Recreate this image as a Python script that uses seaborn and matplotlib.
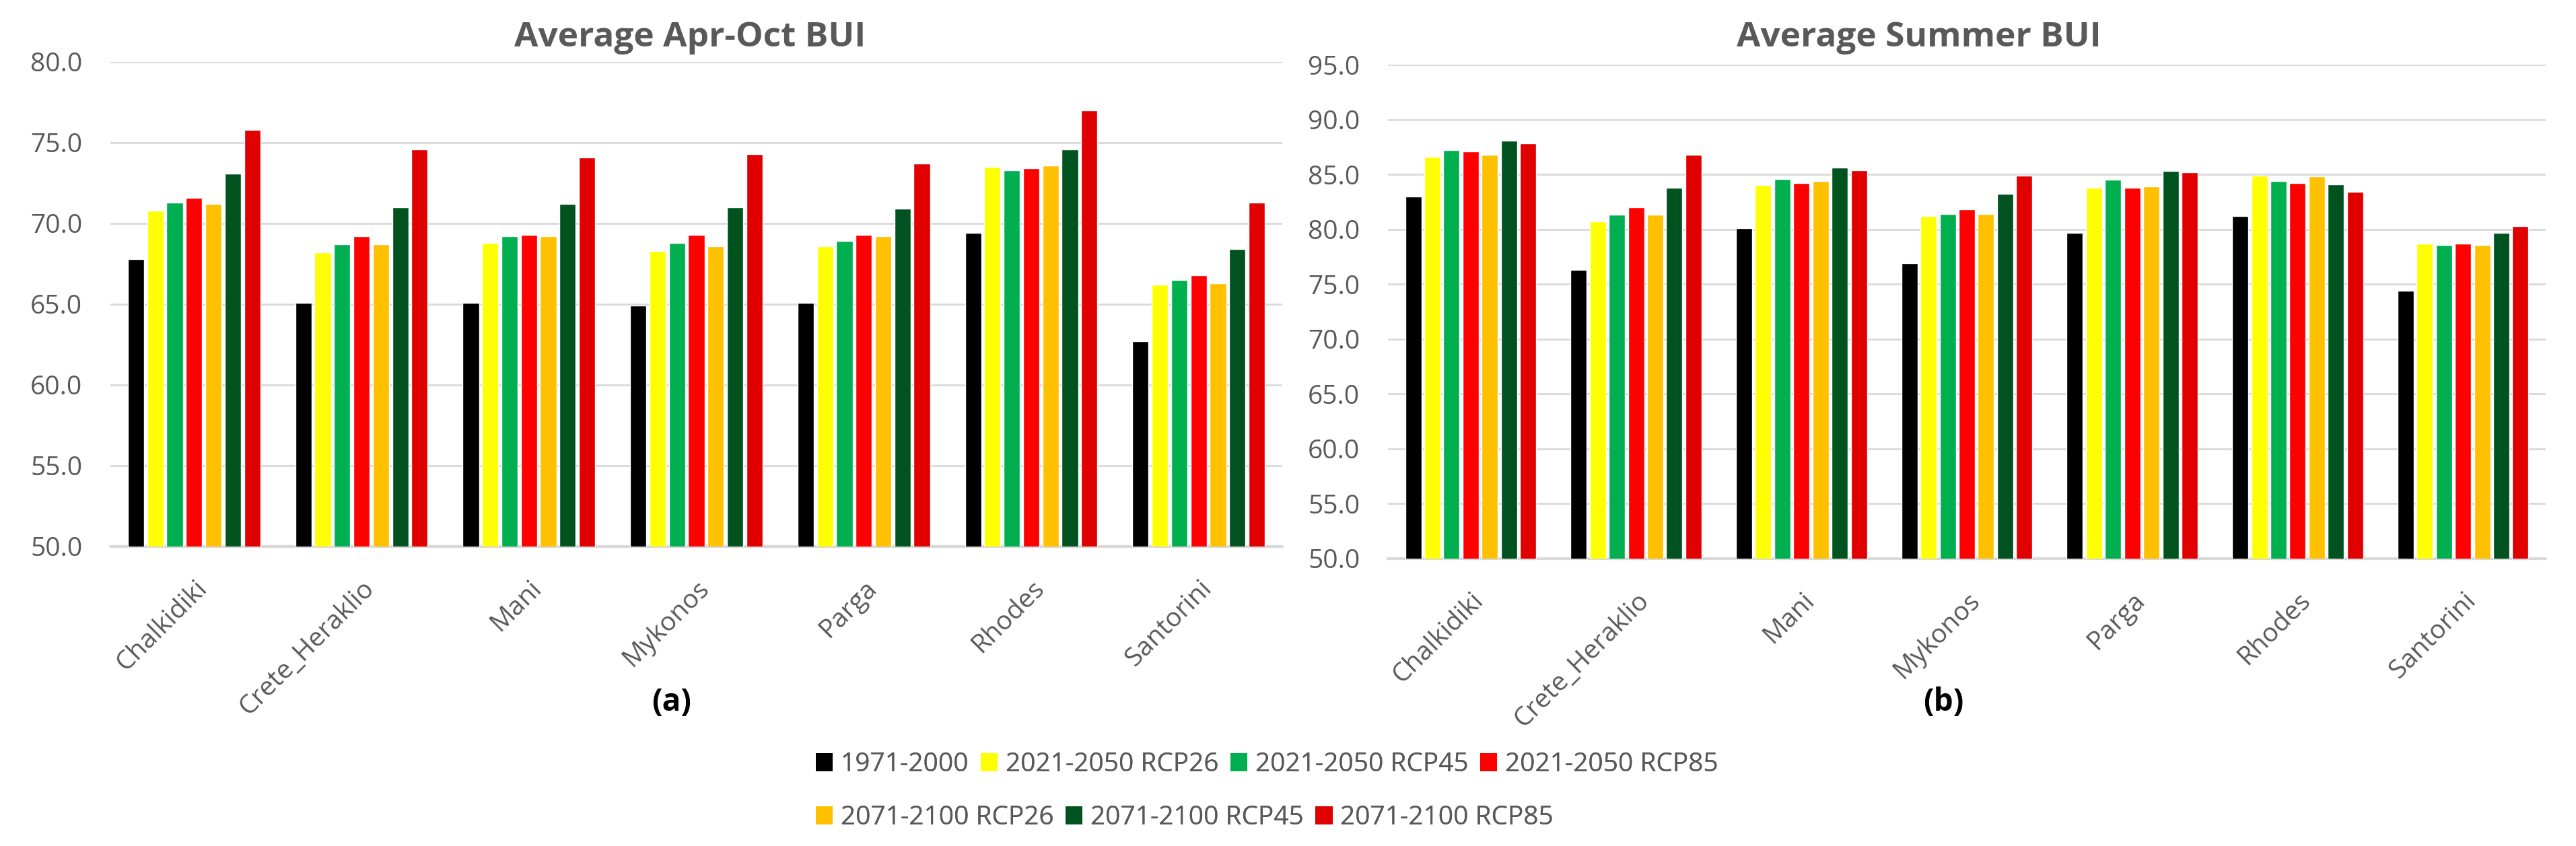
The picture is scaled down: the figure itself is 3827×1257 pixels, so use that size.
import pandas as pd
import numpy as np
import matplotlib
matplotlib.use("Agg")
import matplotlib.pyplot as plt
import seaborn as sns
from matplotlib.ticker import FormatStrFormatter
from matplotlib.patches import Patch

# data
sites = ["Chalkidiki", "Crete_Heraklio", "Mani", "Mykonos", "Parga", "Rhodes", "Santorini"]
periods = ["1971-2000", "2021-2050 RCP26", "2021-2050 RCP45", "2021-2050 RCP85",
           "2071-2100 RCP26", "2071-2100 RCP45", "2071-2100 RCP85"]
colors = ["#000000", "#FFFF00", "#00B050", "#FF0000", "#FFC000", "#00531E", "#E00000"]

# (a) Average Apr-Oct BUI
aprOct_1971_2000 = [67.8, 65.1, 65.1, 64.9, 65.1, 69.4, 62.7]
aprOct_2021_rcp26 = [70.8, 68.2, 68.8, 68.3, 68.6, 73.5, 66.2]
aprOct_2021_rcp45 = [71.3, 68.7, 69.2, 68.8, 68.9, 73.3, 66.5]
aprOct_2021_rcp85 = [71.6, 69.2, 69.3, 69.3, 69.3, 73.4, 66.8]
aprOct_2071_rcp26 = [71.2, 68.7, 69.2, 68.6, 69.2, 73.6, 66.3]
aprOct_2071_rcp45 = [73.1, 71.0, 71.2, 71.0, 70.9, 74.6, 68.4]
aprOct_2071_rcp85 = [75.8, 74.6, 74.1, 74.3, 73.7, 77.0, 71.3]

# (b) Average Summer BUI
summer_1971_2000 = [83.0, 76.3, 80.1, 76.9, 79.7, 81.2, 74.4]
summer_2021_rcp26 = [86.6, 80.7, 84.0, 81.2, 83.8, 84.9, 78.7]
summer_2021_rcp45 = [87.2, 81.3, 84.6, 81.4, 84.5, 84.4, 78.6]
summer_2021_rcp85 = [87.1, 82.0, 84.2, 81.8, 83.8, 84.2, 78.7]
summer_2071_rcp26 = [86.8, 81.3, 84.4, 81.4, 83.9, 84.8, 78.6]
summer_2071_rcp45 = [88.1, 83.8, 85.6, 83.2, 85.3, 84.1, 79.7]
summer_2071_rcp85 = [87.8, 86.8, 85.4, 84.9, 85.2, 83.4, 80.3]

aprOct = [aprOct_1971_2000, aprOct_2021_rcp26, aprOct_2021_rcp45, aprOct_2021_rcp85,
          aprOct_2071_rcp26, aprOct_2071_rcp45, aprOct_2071_rcp85]
summer = [summer_1971_2000, summer_2021_rcp26, summer_2021_rcp45, summer_2021_rcp85,
          summer_2071_rcp26, summer_2071_rcp45, summer_2071_rcp85]


def to_long(series):
    rows = []
    for p, vals in zip(periods, series):
        for s, v in zip(sites, vals):
            rows.append({"site": s, "period": p, "BUI": v})
    return pd.DataFrame(rows)


sns.set_style("white")
plt.rcParams["font.family"] = ["Open Sans", "DejaVu Sans"]

GREY = "#595959"
GRID = "#D9D9D9"
W, H = 3827, 1257
fig = plt.figure(figsize=(W / 100, H / 100), dpi=100)

pal = dict(zip(periods, colors))

panels = [
    # data, ylim top, axes rect (px: left, right, top, bottom), title, title x, label, label x
    (aprOct, 80, (164, 1905, 92, 812), "Average Apr-Oct BUI", 1025, "(a)", 998),
    (summer, 95, (2062, 3782, 96, 830), "Average Summer BUI", 2851, "(b)", 2887),
]

for series, ytop, (x0, x1, y0, y1), title, tx, lab, lx in panels:
    ax = fig.add_axes([x0 / W, 1 - y1 / H, (x1 - x0) / W, (y1 - y0) / H])
    df = to_long(series)
    sns.barplot(data=df, x="site", y="BUI", hue="period", order=sites,
                hue_order=periods, palette=pal, saturation=1, width=0.81,
                gap=0.16, errorbar=None, legend=False, ax=ax)
    ax.set_ylim(50, ytop)
    ax.set_yticks(np.arange(50, ytop + 0.1, 5))
    ax.yaxis.set_major_formatter(FormatStrFormatter("%.1f"))
    ax.set_xlim(-0.5, len(sites) - 0.5)
    ax.set_xlabel("")
    ax.set_ylabel("")
    sns.despine(ax=ax, left=True, bottom=True)
    ax.yaxis.grid(True, color=GRID, lw=2)
    ax.set_axisbelow(True)
    ax.axhline(50, color=GRID, lw=3, clip_on=False, zorder=0.5)
    ax.tick_params(axis="y", length=0, pad=30, labelsize=28, labelcolor=GREY)
    ax.tick_params(axis="x", length=0, pad=31, labelsize=28, labelcolor=GREY)
    for t in ax.get_xticklabels():
        t.set_rotation(45)
        t.set_ha("right")
        t.set_va("top")
        t.set_rotation_mode("anchor")
    fig.text(tx / W, 1 - 69 / H, title, ha="center", va="baseline",
             fontsize=37, fontweight="bold", color=GREY)
    fig.text(lx / W, 1 - 1044 / H, lab, ha="center", va="center",
             fontsize=33, fontweight="bold", color="black")

# legend in two rows, like the Excel original
handles = [Patch(facecolor=c, edgecolor="none") for c in colors]
rows = [(0, 4, 1136), (4, 7, 1215)]
for a, b, yy in rows:
    leg = fig.legend(handles[a:b], periods[a:b], loc="center left",
                     bbox_to_anchor=(1212 / W, 1 - yy / H), ncol=b - a,
                     frameon=False, fontsize=28, handlelength=0.65,
                     handleheight=0.7, handletextpad=0.3, columnspacing=0.45,
                     borderpad=0, borderaxespad=0)
    for t in leg.get_texts():
        t.set_color(GREY)
    fig.add_artist(leg)

fig.savefig("out.png", dpi=100)
